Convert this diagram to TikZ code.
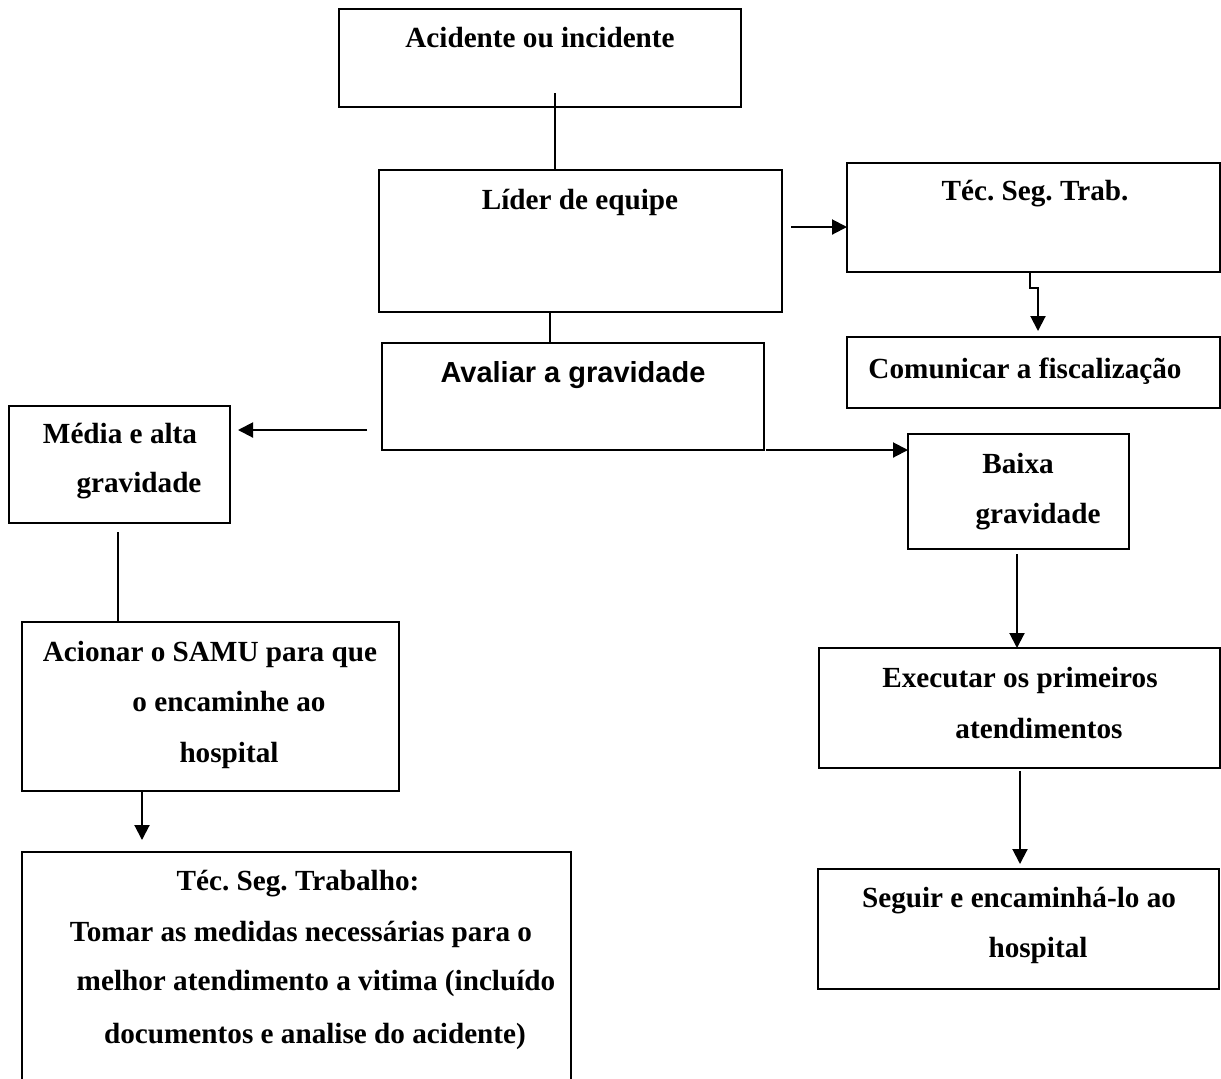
\documentclass[tikz,border=0pt]{standalone}
\usepackage{fontspec}
\setmainfont{Liberation Serif}
\newfontfamily\sansbold{Liberation Sans}
\usetikzlibrary{arrows.meta}
\frenchspacing
\begin{document}
\begin{tikzpicture}[x=0.5pt,y=-0.5pt,
  box/.style={draw, line width=1pt, inner sep=0pt, outer sep=0pt},
  lbl/.style={anchor=base, inner sep=0pt, font=\fontsize{14.6}{17}\selectfont\frenchspacing\bfseries},
  slbl/.style={anchor=base, inner sep=0pt, font=\fontsize{14.5}{17}\selectfont\sansbold\bfseries},
  link/.style={line width=1pt},
  arr/.style={line width=1pt, -{Triangle[length=7.5pt,width=7.5pt]}}]
\useasboundingbox (0,0) rectangle (1221,1078);
\clip (0,0) rectangle (1221,1078);
% boxes
\node[box, minimum width=201pt,   minimum height=49pt]   (acid) at (540,58) {};
\node[box, minimum width=201.5pt, minimum height=71pt]   (lider) at (580.5,241) {};
\node[box, minimum width=186.5pt, minimum height=54.5pt] (tecst) at (1033.5,217.5) {};
\node[box, minimum width=186.5pt, minimum height=35.5pt] (comun) at (1033.5,372.5) {};
\node[box, minimum width=191pt,   minimum height=53.5pt] (aval) at (573,396.5) {};
\node[box, minimum width=110.5pt, minimum height=58.5pt] (media) at (119.5,464.5) {};
\node[box, minimum width=110.5pt, minimum height=57.5pt] (baixa) at (1018.5,491.5) {};
\node[box, minimum width=188.5pt, minimum height=84.5pt] (samu) at (210.5,706.5) {};
\node[box, minimum width=200.5pt, minimum height=60pt]   (exec) at (1019.5,708) {};
\node[box, minimum width=200.5pt, minimum height=60pt]   (segu) at (1018.5,929) {};
\node[box, minimum width=274.5pt, minimum height=130pt]  (tectr) at (296.5,982) {};
% labels
\node[lbl] (tA) at (540,47) {Acidente ou incidente};
\node[lbl] (tL) at (580,209) {Líder de equipe};
\node[lbl] (tT) at (1035,200) {Téc. Seg. Trab.};
\node[lbl] (tC) at (1025,378) {Comunicar a fiscalização};
\node[slbl] (tV) at (573,382) {Avaliar a gravidade};
\node[lbl] (tM1) at (120,443) {Média e alta};
\node[lbl] (tM2) at (139,492) {gravidade};
\node[lbl] (tB1) at (1018,473) {Baixa};
\node[lbl] (tB2) at (1038,523) {gravidade};
\node[lbl] (tS1) at (210,661) {Acionar o SAMU para que};
\node[lbl] (tS2) at (229,711) {o encaminhe ao};
\node[lbl] (tS3) at (229,762) {hospital};
\node[lbl] (tE1) at (1020,687) {Executar os primeiros};
\node[lbl] (tE2) at (1039,738) {atendimentos};
\node[lbl] (tG1) at (1019,907) {Seguir e encaminhá-lo ao};
\node[lbl] (tG2) at (1038,957) {hospital};
\node[lbl] (tR1) at (298,890) {Téc. Seg. Trabalho:};
\node[lbl] (tR2) at (301,941) {Tomar as medidas necessárias para o};
\node[lbl] (tR3) at (316,990) {melhor atendimento a vitima (incluído};
\node[lbl] (tR4) at (315,1043) {documentos e analise do acidente)};
% connector points
\coordinate (a1) at (555,93);
\coordinate (l1) at (550,312);
\coordinate (l2) at (791,227);
\coordinate (t1) at (1030,288);
\coordinate (t2) at (1038,288);
\coordinate (v1) at (367,430);
\coordinate (v2) at (766,450);
\coordinate (m1) at (118,532);
\coordinate (s1) at (142,792);
\coordinate (b1) at (1017,554);
\coordinate (e1) at (1020,771);
% connectors
\draw[link] (a1) -- (a1 |- lider.north);
\draw[link] (l1) -- (l1 |- aval.north);
\draw[arr] (l2) -- (l2 -| tecst.west);
\draw[arr, shorten >=3pt] (t1 |- tecst.south) -- (t1) -- (t2) -- (t2 |- comun.north);
\draw[arr, shorten >=4pt] (v1) -- (v1 -| media.east);
\draw[arr] (v2) -- (v2 -| baixa.west);
\draw[link] (m1) -- (m1 |- samu.north);
\draw[arr, shorten >=6pt] (s1) -- (s1 |- tectr.north);
\draw[arr] (b1) -- (b1 |- exec.north);
\draw[arr, shorten >=2.5pt] (e1) -- (e1 |- segu.north);
\end{tikzpicture}
\end{document}
